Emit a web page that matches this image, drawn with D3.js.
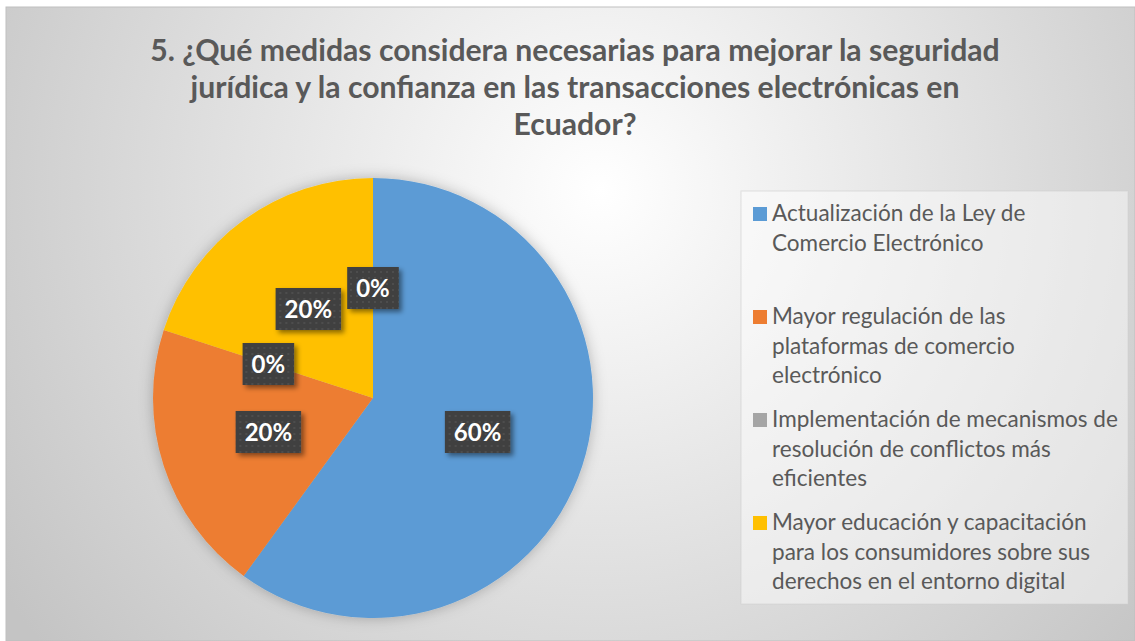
<!DOCTYPE html>
<html>
<head>
<meta charset="utf-8">
<script src="https://cdn.jsdelivr.net/npm/d3@7"></script>
<style>
  body { margin: 0; background: #fff; }
  text { font-family: Lato, "Open Sans", sans-serif; }
</style>
</head>
<body>
<div id="chart-area"></div>
<script>
// Data
let categories = [
    "Actualización de la Ley de\nComercio Electrónico",
    "Mayor regulación de las\nplataformas de comercio\nelectrónico",
    "Implementación de mecanismos de\nresolución de conflictos más\neficientes",
    "Mayor educación y capacitación\npara los consumidores sobre sus\nderechos en el entorno digital"
];
// last slice has no legend entry (it shows as a second 0% label)
let values = [60, 20, 0, 20, 0];
let colors = ["#5B9BD5", "#ED7D31", "#A5A5A5", "#FFC000", "#7F7F7F"];
let titleLines = [
    "5. ¿Qué medidas considera necesarias para mejorar la seguridad",
    "jurídica y la confianza en las transacciones electrónicas en",
    "Ecuador?"
];

let width = 1135, height = 641;

let svg = d3.select("#chart-area").append("svg")
    .attr("width", width)
    .attr("height", height);

let defs = svg.append("defs");

let bg = defs.append("radialGradient")
    .attr("id", "bg")
    .attr("gradientUnits", "userSpaceOnUse")
    .attr("cx", 600).attr("cy", 190).attr("r", 720);
bg.append("stop").attr("offset", "0%").attr("stop-color", "#ffffff");
bg.append("stop").attr("offset", "100%").attr("stop-color", "#c4c4c4");

let glow = defs.append("filter").attr("id", "glow")
    .attr("x", "-20%").attr("y", "-20%").attr("width", "140%").attr("height", "140%");
glow.append("feDropShadow").attr("dx", 0).attr("dy", 0)
    .attr("stdDeviation", 7).attr("flood-color", "#000").attr("flood-opacity", 0.25);

let shadow = defs.append("filter").attr("id", "shadow")
    .attr("x", "-30%").attr("y", "-30%").attr("width", "160%").attr("height", "160%");
shadow.append("feDropShadow").attr("dx", 3).attr("dy", 3)
    .attr("stdDeviation", 2.5).attr("flood-color", "#000").attr("flood-opacity", 0.45);

let dots = defs.append("pattern").attr("id", "dots")
    .attr("patternUnits", "userSpaceOnUse").attr("width", 6).attr("height", 6);
dots.append("rect").attr("width", 6).attr("height", 6).attr("fill", "#404040");
dots.append("rect").attr("x", 1).attr("y", 1).attr("width", 2).attr("height", 2).attr("fill", "#4d4d4d");

// Chart background
svg.append("rect")
    .attr("x", 6).attr("y", 7)
    .attr("width", width - 6).attr("height", height - 7)
    .attr("fill", "url(#bg)")
    .attr("stroke", "#bfbfbf");

// Title
let title = svg.append("g").attr("class", "title");
title.selectAll("text")
    .data(titleLines)
    .enter().append("text")
    .attr("x", 575)
    .attr("y", (d, i) => 61 + i * 37)
    .attr("text-anchor", "middle")
    .attr("font-weight", "bold")
    .attr("font-size", 28)
    .attr("fill", "#595959")
    .text(d => d);

// fit title to its width in the reference
let t0 = title.select("text").node().getComputedTextLength();
title.selectAll("text").attr("font-size", 28 * 850 / t0);

// Pie
let cx = 373, cy = 398, radius = 220;

let pie = d3.pie().sort(null).value(d => d);
let arc = d3.arc().innerRadius(0).outerRadius(radius);
let labelArc = d3.arc().innerRadius(radius * 0.5).outerRadius(radius * 0.5);

let pieG = svg.append("g")
    .attr("transform", "translate(" + cx + "," + cy + ")");

pieG.append("g")
    .attr("filter", "url(#glow)")
    .selectAll("path")
    .data(pie(values))
    .enter().append("path")
    .attr("d", arc)
    .attr("fill", (d, i) => colors[i]);

// Data labels
let labels = pieG.selectAll(".label")
    .data(pie(values))
    .enter().append("g")
    .attr("class", "label")
    .attr("transform", d => "translate(" + labelArc.centroid(d) + ")");

labels.append("rect").attr("fill", "url(#dots)").attr("filter", "url(#shadow)");

labels.append("text")
    .attr("text-anchor", "middle")
    .attr("dy", "0.36em")
    .attr("font-weight", "bold")
    .attr("font-size", 24)
    .attr("fill", "#ffffff")
    .text(d => d.data + "%");

labels.each(function() {
    let g = d3.select(this);
    let w = g.select("text").node().getComputedTextLength() + 18;
    g.select("rect")
        .attr("x", -w / 2).attr("y", -21)
        .attr("width", w).attr("height", 42);
});

// Legend
let legendX = 741, legendY = 191;
svg.append("rect")
    .attr("x", legendX).attr("y", legendY)
    .attr("width", 387).attr("height", 413)
    .attr("fill", "#ffffff").attr("fill-opacity", 0.45)
    .attr("stroke", "#d0d0d0").attr("stroke-opacity", 0.6);

let legend = svg.append("g").attr("class", "legend");

let items = legend.selectAll(".item")
    .data(categories)
    .enter().append("g")
    .attr("class", "item")
    .attr("transform", (d, i) => "translate(753," + (221 + i * 103) + ")");

items.append("rect")
    .attr("x", 0).attr("y", -14)
    .attr("width", 14).attr("height", 14)
    .attr("fill", (d, i) => colors[i]);

items.append("text")
    .attr("fill", "#595959")
    .attr("font-size", 19)
    .selectAll("tspan")
    .data(d => d.split("\n"))
    .enter().append("tspan")
    .attr("x", 19)
    .attr("y", (d, i) => i * 29.5)
    .text(d => d);

// fit legend text to the reference width
let longest = items.filter((d, i) => i === 2).select("tspan").node().getComputedTextLength();
items.selectAll("text").attr("font-size", 19 * 346 / longest);
</script>
</body>
</html>
